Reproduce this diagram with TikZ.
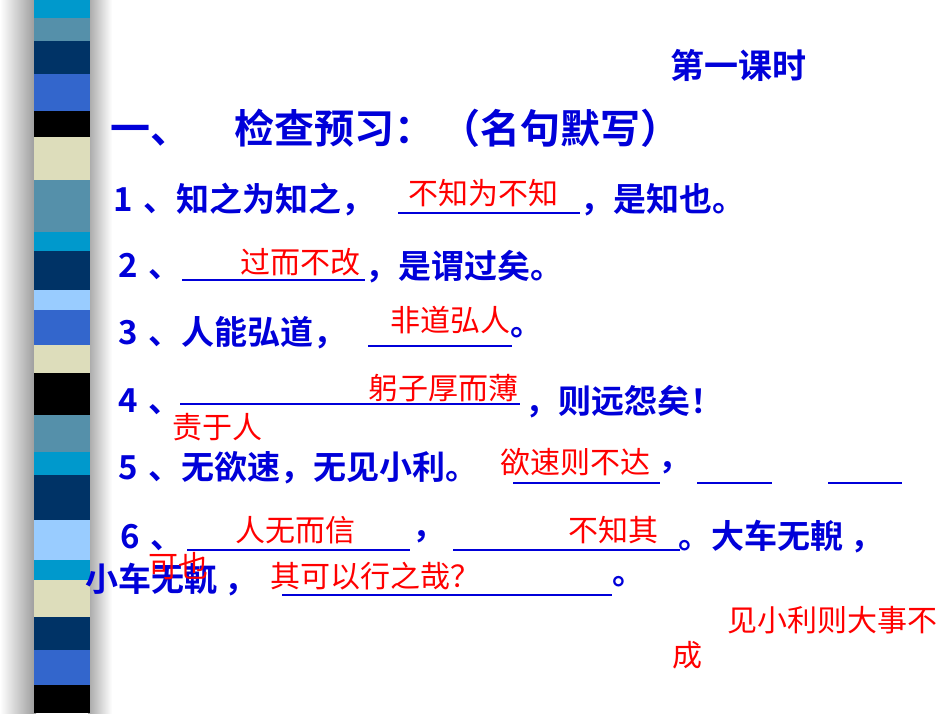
\documentclass[tikz,border=0pt]{standalone}
\usepackage{fontspec}
\newfontfamily\cjk{Noto Sans CJK SC}
\newfontfamily\cjkb{Noto Sans CJK SC Bold}
\begin{document}
\begin{tikzpicture}[x=1pt,y=-1pt,
  bt/.style={anchor=west,inner sep=0pt,text=blue!85!black,font=\cjkb\fontsize{33}{33}\selectfont},
  rt/.style={anchor=west,inner sep=0pt,text=red,font=\cjk\fontsize{30}{30}\selectfont},
  ul/.style={blue!85!black,line width=1.6pt}]
\useasboundingbox (0,0) rectangle (950,713);
\fill[white] (0,0) rectangle (950,713);
\shade[left color=white,right color=gray!80] (0,0) rectangle (36,713);
\shade[left color=gray!70,right color=white] (88,0) rectangle (112,713);
\definecolor{cA}{HTML}{0099CC}\definecolor{cB}{HTML}{5590AA}\definecolor{cC}{HTML}{003366}
\definecolor{cD}{HTML}{3366CC}\definecolor{cE}{HTML}{000000}\definecolor{cF}{HTML}{DDDDBB}
\definecolor{cG}{HTML}{99CCFF}
\foreach \a/\b/\c in {0/18/cA,18/41/cB,41/74/cC,74/111/cD,111/137/cE,137/180/cF,180/232/cB,232/251/cA,251/290/cC,290/310/cG,310/345/cD,345/373/cF,373/415/cE,415/452/cB,452/475/cA,475/520/cC,520/560/cG,560/580/cA,580/617/cF,617/650/cC,650/685/cD,685/713/cE}
  \fill[\c] (34,\a) rectangle (90,\b);
\node[bt,font=\cjkb\fontsize{34}{34}\selectfont] (title) at (670,65) {第一课时};
\node[bt,font=\cjkb\fontsize{40}{40}\selectfont] (head) at (110,128) {一、\hspace{44pt}检查预习：\hspace{6pt}（名句默写）};
% line 1
\node[bt] (l1a) at (113,200) {1\,\,、知之为知之，};
\draw[ul] (398,213) -- (580,213);
\node[rt] (r1) at (408,193) {不知为不知};
\node[bt] (l1b) at (580,200) {，是知也。};
% line 2
\node[bt] (l2a) at (118,267) {2\,\,、};
\draw[ul] (182,280) -- (365,280);
\node[rt] (r2) at (240,262) {过而不改};
\node[bt] (l2b) at (365,267) {，是谓过矣。};
% line 3
\node[bt] (l3a) at (118,333) {3\,\,、人能弘道，};
\draw[ul] (368,346) -- (512,346);
\node[rt] (r3) at (390,320) {非道弘人};
\node[bt] (l3b) at (510,333) {。};
% line 4
\node[bt] (l4a) at (118,402) {4\,\,、};
\draw[ul] (180,404) -- (520,404);
\node[rt] (r4) at (368,388) {躬子厚而薄};
\node[bt] (l4b) at (525,402) {，则远怨矣！};
\node[rt] (r4b) at (172,427) {责于人};
% line 5
\node[bt] (l5a) at (118,468) {5\,\,、无欲速，无见小利。};
\draw[ul] (513,483) -- (660,483);
\node[rt] (r5) at (500,462) {欲速则不达};
\node[bt] (l5b) at (658,468) {，};
\draw[ul] (697,483) -- (772,483);
\draw[ul] (828,483) -- (902,483);
% line 6
\node[bt] (l6a) at (120,537) {6\,\,、};
\draw[ul] (187,550) -- (410,550);
\node[rt] (r6) at (235,530) {人无而信};
\node[bt] (l6b) at (412,537) {，};
\draw[ul] (453,550) -- (680,550);
\node[rt] (r6b) at (568,530) {不知其};
\node[bt] (l6c) at (678,537) {。大车无輗 ，};
% line 7
\node[bt] (l7a) at (85,580) {小车无軏 ，};
\node[rt] (r7a) at (148,566) {可也};
\node[rt] (r7b) at (270,576) {其可以行之哉？};
\draw[ul] (282,595) -- (612,595);
\node[bt] (l7b) at (612,582) {。};
\node[rt] (r8) at (727,620) {见小利则大事不};
\node[rt] (r9) at (672,655) {成};
\end{tikzpicture}
\end{document}
